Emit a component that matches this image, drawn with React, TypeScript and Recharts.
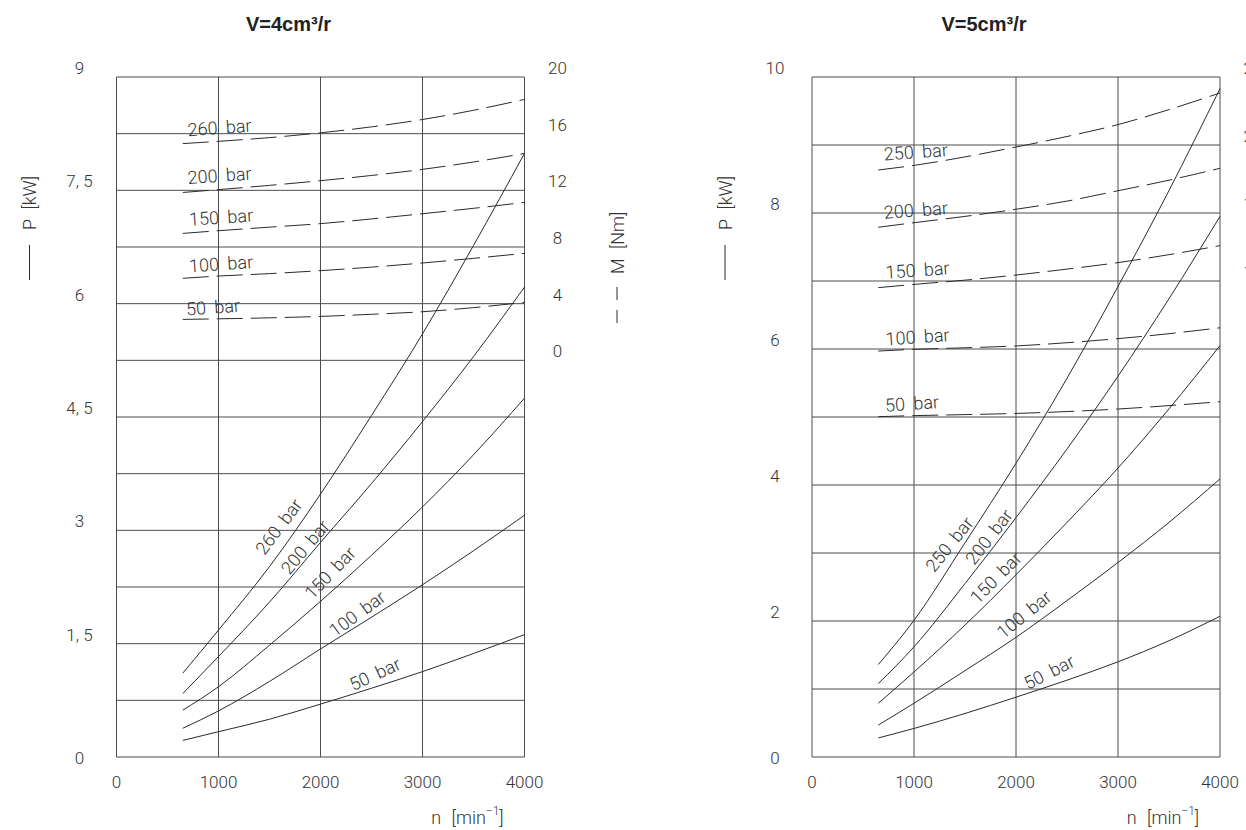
import { CartesianGrid, Line, LineChart, ReferenceDot, XAxis, YAxis } from "recharts";

// shaft speed n [min-1]
const SPEED = [650, 1000, 1500, 2000, 2500, 3000, 3500, 4000];

// V=4cm3/r, power P [kW]
const P4_50 = [0.22, 0.335, 0.5, 0.7, 0.91, 1.13, 1.37, 1.62];
const P4_100 = [0.38, 0.61, 1.0, 1.43, 1.85, 2.28, 2.73, 3.2];
const P4_150 = [0.62, 0.93, 1.48, 2.06, 2.67, 3.31, 4.0, 4.75];
const P4_200 = [0.84, 1.33, 2.05, 2.84, 3.62, 4.44, 5.3, 6.22];
const P4_260 = [1.11, 1.68, 2.52, 3.48, 4.52, 5.6, 6.77, 7.99];

// V=4cm3/r, torque M [Nm]
const M4_50 = [2.89, 2.93, 3.0, 3.1, 3.25, 3.43, 3.72, 4.09];
const M4_100 = [5.79, 5.95, 6.12, 6.33, 6.58, 6.87, 7.2, 7.55];
const M4_150 = [8.96, 9.15, 9.4, 9.65, 9.98, 10.35, 10.73, 11.15];
const M4_200 = [11.85, 12.05, 12.35, 12.68, 13.05, 13.48, 14.0, 14.6];
const M4_260 = [15.3, 15.46, 15.72, 16.06, 16.48, 17.0, 17.65, 18.42];

// V=5cm3/r, power P [kW]
const P5_50 = [0.28, 0.42, 0.64, 0.88, 1.13, 1.4, 1.71, 2.07];
const P5_100 = [0.47, 0.79, 1.27, 1.76, 2.3, 2.86, 3.45, 4.09];
const P5_150 = [0.79, 1.25, 1.94, 2.68, 3.45, 4.25, 5.12, 6.05];
const P5_200 = [1.08, 1.62, 2.55, 3.52, 4.53, 5.6, 6.74, 7.95];
const P5_250 = [1.36, 2.01, 3.15, 4.32, 5.57, 6.92, 8.33, 9.83];

// V=5cm3/r, torque M [Nm]
const M5_50 = [4.02, 4.08, 4.14, 4.21, 4.32, 4.47, 4.67, 4.9];
const M5_100 = [7.88, 7.98, 8.07, 8.18, 8.37, 8.61, 8.9, 9.25];
const M5_150 = [11.61, 11.8, 12.05, 12.35, 12.7, 13.08, 13.55, 14.08];
const M5_200 = [15.16, 15.43, 15.8, 16.22, 16.7, 17.31, 17.93, 18.63];
const M5_250 = [18.53, 18.8, 19.3, 19.88, 20.5, 21.2, 22.08, 23.06];

// axes
const N_TICKS = [0, 1000, 2000, 3000, 4000];
const P4_GRID = [0, 0.75, 1.5, 2.25, 3, 3.75, 4.5, 5.25, 6, 6.75, 7.5, 8.25, 9];
const P4_LABELS = [0, 1.5, 3, 4.5, 6, 7.5, 9];
const M4_TICKS = [0, 4, 8, 12, 16, 20];
const P5_GRID = [0, 1, 2, 3, 4, 5, 6, 7, 8, 9, 10];
const P5_LABELS = [0, 2, 4, 6, 8, 10];
const M5_TICKS = [0, 4, 8, 12, 16, 20, 24];

// curve annotations: [text, n, value, angle]
const P4_TAGS: [string, number, number, number][] = [
  ["260 bar", 1590, 3.05, -53],
  ["200 bar", 1848, 2.78, -50],
  ["150 bar", 2093, 2.44, -46],
  ["100 bar", 2360, 1.9, -36],
  ["50 bar", 2534, 1.1, -25],
];
const M4_TAGS: [string, number, number, number][] = [
  ["260 bar", 1010, 16.44, -4],
  ["200 bar", 1010, 13.06, -4],
  ["150 bar", 1025, 10.11, -4],
  ["100 bar", 1025, 6.82, -4],
  ["50 bar", 946, 3.76, -4],
];
const P5_TAGS: [string, number, number, number][] = [
  ["250 bar", 1346, 3.13, -51],
  ["200 bar", 1735, 3.24, -52],
  ["150 bar", 1801, 2.64, -45],
  ["100 bar", 2078, 2.1, -39],
  ["50 bar", 2324, 1.25, -27],
];
const M5_TAGS: [string, number, number, number][] = [
  ["250 bar", 1018, 19.6, -4],
  ["200 bar", 1018, 16.18, -4],
  ["150 bar", 1034, 12.65, -4],
  ["100 bar", 1034, 8.72, -4],
  ["50 bar", 980, 4.8, -4],
];

const INK = "#2a2a2a";
const GRID = "#4d4d4d";
const CAD = "Roboto, 'Liberation Sans', sans-serif";
const textStyle = { fontFamily: CAD, fontWeight: 300, fontSize: 17, fill: "#333" };
const tagStyle = { ...textStyle, fontSize: 18, wordSpacing: 4 };

type Curve = { key: string; power: number[]; torque: number[] };
type Tag = [string, number, number, number];

const fmt = (v: number) => String(v).replace(".", ", ");

function renderTag(t: Tag) {
  return (p: any) => (
    <text
      x={p.cx}
      y={p.cy}
      transform={`rotate(${t[3]} ${p.cx} ${p.cy})`}
      textAnchor="middle"
      dominantBaseline="central"
      {...tagStyle}
    >
      {t[0]}
    </text>
  );
}

type ChartProps = {
  title: string;
  curves: Curve[];
  width: number;
  left: number;
  plotLeft: number;
  plotRight: number;
  pMax: number;
  pGrid: number[];
  pLabels: number[];
  mDomain: [number, number];
  mTicks: number[];
  pTags: Tag[];
  mTags: Tag[];
  showM: boolean;
};

function PumpChart(props: ChartProps) {
  const { curves, width, plotLeft, plotRight } = props;
  const rows = SPEED.map((n, i) => {
    const row: Record<string, number> = { n };
    curves.forEach((c) => {
      row["p" + c.key] = c.power[i];
      row["m" + c.key] = c.torque[i];
    });
    return row;
  });

  return (
    <div style={{ position: "absolute", left: props.left, top: 0, width, height: 830 }}>
      <div
        style={{
          position: "absolute",
          left: plotLeft + (plotRight - plotLeft) / 2 - 32 - 100,
          width: 200,
          top: 12,
          textAlign: "center",
          fontFamily: "'Liberation Sans', Arial, sans-serif",
          fontWeight: 700,
          fontSize: 20,
          lineHeight: "24px",
          color: "#222",
        }}
      >
        {props.title}
      </div>
      <LineChart
        width={width}
        height={830}
        data={rows}
        margin={{ top: 77, right: width - plotRight - 60, left: plotLeft - 60, bottom: 13 }}
      >
        <CartesianGrid yAxisId="p" stroke={GRID} strokeWidth={1} />
        <XAxis
          dataKey="n"
          type="number"
          domain={[0, 4000]}
          ticks={N_TICKS}
          interval={0}
          height={60}
          axisLine={false}
          tickLine={false}
          tickSize={0}
          tickMargin={0}
          tick={(t: any) => (
            <text x={t.x} y={t.y + 25} textAnchor="middle" dominantBaseline="central" {...textStyle}>
              {t.payload.value}
            </text>
          )}
          label={{
            content: (l: any) => {
              const vb = l.viewBox;
              return (
                <text
                  x={vb.x + vb.width - 57}
                  y={vb.y + 60}
                  textAnchor="middle"
                  dominantBaseline="central"
                  {...textStyle}
                  fontSize={18}
                  wordSpacing={6}
                >
                  n [min
                  <tspan dy={-6} fontSize={12}>
                    −1
                  </tspan>
                  <tspan dy={6}>]</tspan>
                </text>
              );
            },
          }}
        />
        <YAxis
          yAxisId="p"
          type="number"
          domain={[0, props.pMax]}
          ticks={props.pGrid}
          interval={0}
          width={60}
          axisLine={false}
          tickLine={false}
          tickSize={0}
          tickMargin={0}
          tick={(t: any) => {
            const v = t.payload.value;
            if (!props.pLabels.includes(v)) return <g />;
            return (
              <text
                x={t.x - 37}
                y={v === 0 ? t.y + 1 : t.y - 9}
                textAnchor="middle"
                dominantBaseline="central"
                {...textStyle}
              >
                {fmt(v)}
              </text>
            );
          }}
          label={{
            content: (l: any) => {
              const vb = l.viewBox;
              const x = vb.x - 27;
              const y = vb.y + 153;
              return (
                <g transform={`translate(${x} ${y}) rotate(-90)`}>
                  <line x1={-50} y1={0} x2={-15} y2={0} stroke={INK} strokeWidth={1} />
                  <text x={0} y={0} dominantBaseline="central" {...textStyle} fontSize={18} wordSpacing={5}>
                    P [kW]
                  </text>
                </g>
              );
            },
          }}
        />
        <YAxis
          yAxisId="m"
          orientation="right"
          type="number"
          domain={props.mDomain}
          ticks={props.mTicks}
          interval={0}
          width={60}
          axisLine={false}
          tickLine={false}
          tickSize={0}
          tickMargin={0}
          tick={(t: any) => (
            <text
              x={t.x + 33}
              y={t.y - 9}
              textAnchor="middle"
              dominantBaseline="central"
              {...textStyle}
            >
              {t.payload.value}
            </text>
          )}
          label={
            props.showM
              ? {
                  content: (l: any) => {
                    const vb = l.viewBox;
                    const x = vb.x + 92.5;
                    const y = vb.y + 197;
                    return (
                      <g transform={`translate(${x} ${y}) rotate(-90)`}>
                        <line x1={-49} y1={0} x2={-36} y2={0} stroke={INK} strokeWidth={1} />
                        <line x1={-26} y1={0} x2={-13} y2={0} stroke={INK} strokeWidth={1} />
                        <text x={0} y={0} dominantBaseline="central" {...textStyle} fontSize={18} wordSpacing={5}>
                          M [Nm]
                        </text>
                      </g>
                    );
                  },
                }
              : undefined
          }
        />
        {curves.map((c) => (
          <Line
            key={"p" + c.key}
            yAxisId="p"
            dataKey={"p" + c.key}
            type="monotone"
            stroke={INK}
            strokeWidth={1}
            dot={false}
            activeDot={false}
            isAnimationActive={false}
          />
        ))}
        {curves.map((c) => (
          <Line
            key={"m" + c.key}
            yAxisId="m"
            dataKey={"m" + c.key}
            type="monotone"
            stroke={INK}
            strokeWidth={1}
            strokeDasharray="26 8"
            dot={false}
            activeDot={false}
            isAnimationActive={false}
          />
        ))}
        {props.pTags.map((t) => (
          <ReferenceDot
            key={"pt" + t[0]}
            yAxisId="p"
            x={t[1]}
            y={t[2]}
            r={0}
            ifOverflow="visible"
            shape={renderTag(t)}
          />
        ))}
        {props.mTags.map((t) => (
          <ReferenceDot
            key={"mt" + t[0]}
            yAxisId="m"
            x={t[1]}
            y={t[2]}
            r={0}
            ifOverflow="visible"
            shape={renderTag(t)}
          />
        ))}
      </LineChart>
    </div>
  );
}

export default function App() {
  const curves4: Curve[] = [
    { key: "50", power: P4_50, torque: M4_50 },
    { key: "100", power: P4_100, torque: M4_100 },
    { key: "150", power: P4_150, torque: M4_150 },
    { key: "200", power: P4_200, torque: M4_200 },
    { key: "260", power: P4_260, torque: M4_260 },
  ];
  const curves5: Curve[] = [
    { key: "50", power: P5_50, torque: M5_50 },
    { key: "100", power: P5_100, torque: M5_100 },
    { key: "150", power: P5_150, torque: M5_150 },
    { key: "200", power: P5_200, torque: M5_200 },
    { key: "250", power: P5_250, torque: M5_250 },
  ];
  return (
    <div
      style={{
        position: "absolute",
        left: 0,
        top: 0,
        width: 1246,
        height: 830,
        overflow: "hidden",
        background: "#fff",
      }}
    >
      <PumpChart
        title="V=4cm³/r"
        curves={curves4}
        width={640}
        left={0}
        plotLeft={116.5}
        plotRight={524.5}
        pMax={9}
        pGrid={P4_GRID}
        pLabels={P4_LABELS}
        mDomain={[-28, 20]}
        mTicks={M4_TICKS}
        pTags={P4_TAGS}
        mTags={M4_TAGS}
        showM={true}
      />
      <PumpChart
        title="V=5cm³/r"
        curves={curves5}
        width={700}
        left={620}
        plotLeft={192}
        plotRight={600}
        pMax={10}
        pGrid={P5_GRID}
        pLabels={P5_LABELS}
        mDomain={[-16, 24]}
        mTicks={M5_TICKS}
        pTags={P5_TAGS}
        mTags={M5_TAGS}
        showM={false}
      />
    </div>
  );
}
